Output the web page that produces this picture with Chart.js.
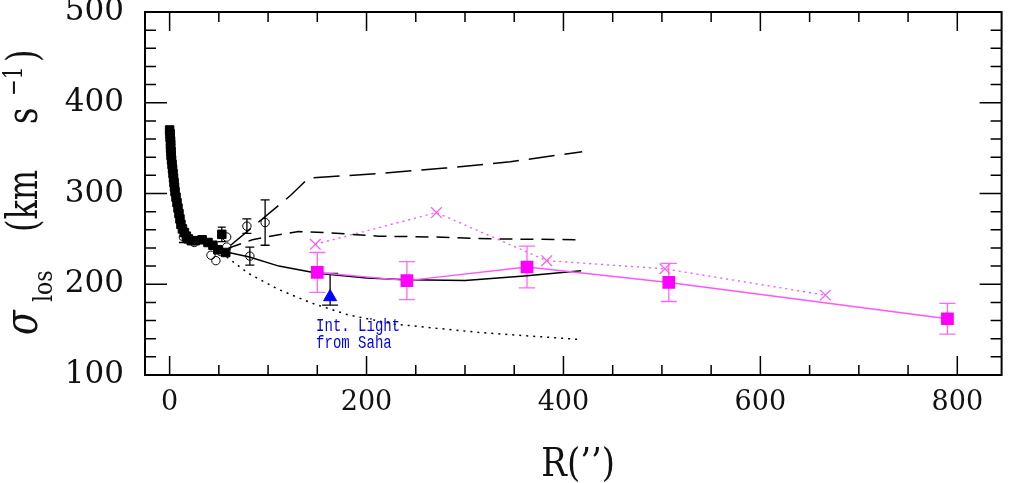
<!DOCTYPE html>
<html>
<head>
<meta charset="utf-8">
<script src="https://cdn.jsdelivr.net/npm/chart.js@4.4.1/dist/chart.umd.min.js"></script>
<style>
html,body{margin:0;padding:0;background:#fff}
</style>
</head>
<body>
<canvas id="chart" width="1011" height="483"></canvas>
<script>
// axis ticks
const xTicks=[0,200,400,600,800]
const yTicks=[100,200,300,400,500]

// inner stellar data (filled black squares)
const innerR=[0,0.5,0.5,1,1,1,1.5,1.5,2,2.5,3,3.5,4,4.5,5,5.5,6.5,7.5,8.5,9.5,10.5,11.5,13,15,17,19,22,26,33,39,44,49,53,57]
const innerS=[370,366,362,358,354,350,346,342,337,332,327,322,317,312,307,302,296,290,284,278,272,266,261,257,253,250,248,248,249,246,243,238,255,235]
const innerErr=[0,0,0,0,0,0,0,0,0,0,0,0,0,0,0,0,0,0,0,0,0,0,0,0,0,0,0,0,0,0,0,0,8,0]

// open circles
const openR=[14,20,25,42,47,52,58,58,78.5,97,81.5]
const openS=[252,250,246,232,226,236,241,252,264,268,231]
const openErr=[6,0,0,0,0,0,0,0,8,25,10]

// magenta squares
const sqR=[150,241,363,507,790]
const sqS=[213,204,219,202,162]
const sqErr=[22,21,23,21,17]

// magenta crosses
const crR=[148,271,383,503,666]
const crS=[244,279,226,217,188]

// integrated light (Saha)
const triR=[163]
const triS=[186]
const triLo=[177]
const triHi=[212]

// model curves
const solidR=[60,81,111,150,200,241,300,360,418]
const solidS=[235,230,220,212,207,205,204,209,215]
const dotR=[58,80,111,145,182,229,313,418]
const dotS=[230,212,194,179,166,156,147,139]
const dashR=[60,84,108,131,158,212,269,330,419]
const dashS=[240,249,254,258,257,253,252,250,249]
const longR=[62,123,141,212,280,346,419]
const longS=[243,298,317,322,328,335,346]

const pts=(xs,ys)=>xs.map((v,i)=>({x:v,y:ys[i]}))
const lo=(ys,e)=>ys.map((v,i)=>v-e[i])
const hi=(ys,e)=>ys.map((v,i)=>v+e[i])

const errPlugin={
id:"errbars",
beforeDatasetsDraw(chart){
const {ctx,scales:{x,y}}=chart
chart.data.datasets.forEach(ds=>{
if(!ds.lo) return
ctx.save()
ctx.strokeStyle=ds.errColor
ctx.lineWidth=1.3
ds.data.forEach((p,i)=>{
if(ds.lo[i]===ds.hi[i]) return
const px=x.getPixelForValue(p.x)
const y1=y.getPixelForValue(ds.lo[i])
const y2=y.getPixelForValue(ds.hi[i])
const c=ds.cap/2
ctx.beginPath()
ctx.moveTo(px,y1);ctx.lineTo(px,y2)
ctx.moveTo(px-c,y1);ctx.lineTo(px+c,y1)
ctx.moveTo(px-c,y2);ctx.lineTo(px+c,y2)
ctx.stroke()
})
ctx.restore()
})
}
}

const framePlugin={
id:"frame",
afterDraw(chart){
const {ctx,chartArea:a,scales:{x,y}}=chart
ctx.save()
ctx.strokeStyle="#000"
ctx.lineWidth=2
ctx.strokeRect(a.left,a.top,a.right-a.left,a.bottom-a.top)
ctx.lineWidth=1.5
ctx.beginPath()
for(let v=y.min;v<=y.max;v+=20){
const py=y.getPixelForValue(v)
const len=yTicks.includes(v)?22:11
ctx.moveTo(a.left,py);ctx.lineTo(a.left+len,py)
ctx.moveTo(a.right,py);ctx.lineTo(a.right-len,py)
}
for(let v=0;v<=x.max;v+=50){
const px=x.getPixelForValue(v)
const len=xTicks.includes(v)?19:10
ctx.moveTo(px,a.bottom);ctx.lineTo(px,a.bottom-len)
ctx.moveTo(px,a.top);ctx.lineTo(px,a.top+len)
}
ctx.stroke()

// x title
ctx.fillStyle="#111"
ctx.save()
ctx.translate(x.getPixelForValue(415),476)
ctx.scale(1,1.15)
ctx.font="34px 'DejaVu Serif'"
ctx.textAlign="center"
ctx.textBaseline="alphabetic"
ctx.fillText("R(\u2019\u2019)",0,0)
ctx.restore()

// y title, rotated
ctx.save()
ctx.rotate(-Math.PI/2)
ctx.textBaseline="alphabetic"
ctx.textAlign="left"
const run=(txt,font,startY,baseX,sx)=>{
ctx.save()
ctx.translate(-startY,baseX)
ctx.scale(1,sx)
ctx.font=font
ctx.fillText(txt,0,0)
ctx.restore()
}
run("\u03c3","italic 36px 'DejaVu Serif'",335,37,1.3)
run("los","22px 'DejaVu Serif'",302,52,1.2)
run("(km","32px 'DejaVu Serif'",232,37,1.35)
run("s","32px 'DejaVu Serif'",124,37,1.35)
run("\u22121","20px 'DejaVu Serif'",96,22,1.3)
run(")","32px 'DejaVu Serif'",62,37,1.35)
ctx.restore()

// annotation
ctx.fillStyle="#0000ee"
ctx.font="14px 'Liberation Mono'"
ctx.textAlign="left"
const ax=x.getPixelForValue(triR[0])-14
ctx.save();ctx.translate(ax,y.getPixelForValue(148.5));ctx.scale(1,1.35);ctx.fillText("Int. Light",0,0);ctx.restore()
ctx.save();ctx.translate(ax,y.getPixelForValue(130));ctx.scale(1,1.35);ctx.fillText("from Saha",0,0);ctx.restore()
ctx.restore()
}
}

const lineDs=(xs,ys,dash,w)=>({
data:pts(xs,ys),showLine:true,pointRadius:0,borderColor:"#000",borderWidth:w,borderDash:dash,fill:false,order:5
})

new Chart(document.getElementById("chart"),{
type:"scatter",
data:{datasets:[
lineDs(solidR,solidS,[],1.5),
lineDs(dotR,dotS,[2,5],1.5),
lineDs(dashR,dashS,[13,8],1.5),
lineDs(longR,longS,[26,10],1.5),
{
data:pts(crR,crS),showLine:true,borderColor:"#ff55ff",borderWidth:1.4,borderDash:[2,4],
pointStyle:"crossRot",pointRadius:7.5,pointBorderWidth:1.2,pointBorderColor:"#ff55ff",order:4
},
{
data:pts(sqR,sqS),showLine:true,borderColor:"#ff55ff",borderWidth:1.4,
pointStyle:"rect",pointRadius:8,pointBackgroundColor:"#ff00ff",pointBorderColor:"#ff00ff",
lo:lo(sqS,sqErr),hi:hi(sqS,sqErr),errColor:"#ff66ff",cap:16,order:3
},
{
data:pts(innerR,innerS),showLine:false,pointStyle:"rect",pointRadius:6,
pointBackgroundColor:"#000",pointBorderColor:"#000",pointBorderWidth:1,
lo:lo(innerS,innerErr),hi:hi(innerS,innerErr),errColor:"#000",cap:8,order:2
},
{
data:pts(openR,openS),showLine:false,pointStyle:"circle",pointRadius:4.2,
pointBackgroundColor:"rgba(255,255,255,0)",pointBorderColor:"#000",pointBorderWidth:1,
lo:lo(openS,openErr),hi:hi(openS,openErr),errColor:"#000",cap:9,order:1
},
{
data:pts(triR,triS),showLine:false,pointStyle:"triangle",pointRadius:7.5,
pointBackgroundColor:"#0000ff",pointBorderColor:"#0000ff",
lo:triLo,hi:triHi,errColor:"#000",cap:16,order:0
}
]},
options:{
responsive:false,
animation:false,
layout:{padding:{top:12,right:-4,left:0,bottom:0}},
plugins:{legend:{display:false},tooltip:{enabled:false}},
scales:{
x:{
type:"linear",min:-25,max:845,
afterBuildTicks:s=>{s.ticks=xTicks.map(v=>({value:v}))},
afterFit:s=>{s.height=108;s.paddingLeft=0;s.paddingRight=0},
grid:{display:false,drawTicks:false},border:{display:false},
ticks:{color:"#111",padding:12,font:{family:"DejaVu Serif",size:27}}
},
y:{
type:"linear",min:100,max:500,
afterBuildTicks:s=>{s.ticks=yTicks.map(v=>({value:v}))},
afterFit:s=>{s.width=145;s.paddingTop=0;s.paddingBottom=0},
grid:{display:false,drawTicks:false},border:{display:false},
ticks:{color:"#111",padding:21,font:{family:"DejaVu Serif",size:31}}
}
}
},
plugins:[errPlugin,framePlugin]
})
</script>
</body>
</html>
